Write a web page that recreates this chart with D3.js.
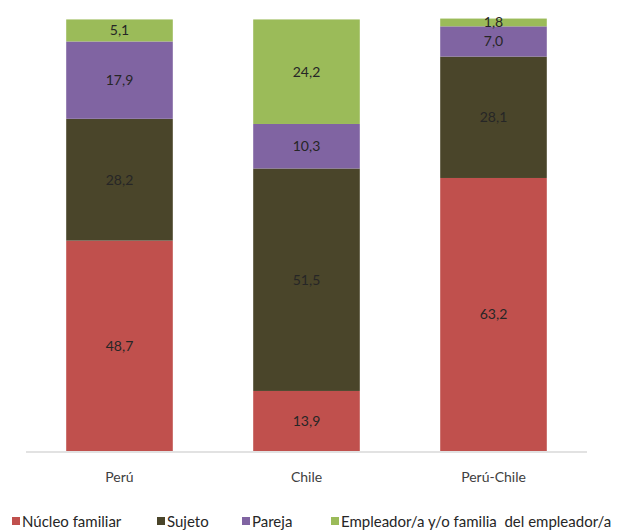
<!DOCTYPE html>
<html><head><meta charset="utf-8">
<script src="https://cdn.jsdelivr.net/npm/d3@7"></script>
<style>body{margin:0;background:#fff}svg{display:block}text{font-family:Lato,"Open Sans",sans-serif}</style>
</head><body><svg id="c" width="625" height="531"></svg>
<script>
const categories = ["Perú", "Chile", "Perú-Chile"];
const seriesNames = ["Núcleo familiar", "Sujeto", "Pareja", "Empleador/a y/o familia  del empleador/a"];
const nucleo = [48.7, 13.9, 63.2];
const sujeto = [28.2, 51.5, 28.1];
const pareja = [17.9, 10.3, 7.0];
const empleador = [5.1, 24.2, 1.8];
const colors = ["#C0504D", "#4A452A", "#8064A2", "#9BBB59"];

const svg = d3.select("#c");
const x = d3.scaleBand().domain(categories).range([26, 587]).paddingInner(0.43).paddingOuter(0.215);
const y = d3.scaleLinear().domain([0, 100]).range([451, 19]);
const series = [nucleo, sujeto, pareja, empleador];
const rows = categories.map((c, i) => {
  const r = {cat: c};
  seriesNames.forEach((s, k) => r[s] = series[k][i]);
  return r;
});
const stacked = d3.stack().keys(seriesNames)(rows);
const fmt = v => v.toFixed(1).replace(".", ",");

const g = svg.append("g");
stacked.forEach((layer, k) => {
  g.selectAll(null).data(layer).enter().append("rect")
    .attr("x", d => x(d.data.cat)).attr("width", x.bandwidth())
    .attr("y", d => y(d[1])).attr("height", d => y(d[0]) - y(d[1]))
    .attr("fill", colors[k]);
  g.selectAll(null).data(layer).enter().append("text")
    .attr("x", d => x(d.data.cat) + x.bandwidth() / 2)
    .attr("y", d => (y(d[0]) + y(d[1])) / 2 + 5)
    .attr("text-anchor", "middle").attr("font-size", 14).attr("fill", "#262626")
    .text(d => fmt(d[1] - d[0]));
});

const ax = svg.append("g").attr("transform", "translate(0,452)").call(d3.axisBottom(x).tickSize(0).tickPadding(20));
ax.select(".domain").attr("stroke", "#d9d9d9").attr("stroke-width", 1.5).attr("d", "M26,0H587");
ax.selectAll("text").attr("font-size", 14).attr("fill", "#404040").style("font-family", "Lato");

const legX = [12, 157, 242, 331];
const lg = svg.append("g");
seriesNames.forEach((s, k) => {
  lg.append("rect").attr("x", legX[k]).attr("y", 517).attr("width", 8).attr("height", 8).attr("fill", colors[k]);
  lg.append("text").attr("x", legX[k] + 10).attr("y", 526.5).attr("font-size", 15).attr("fill", "#262626")
    .style("white-space", "pre").text(s);
});
</script></body></html>
